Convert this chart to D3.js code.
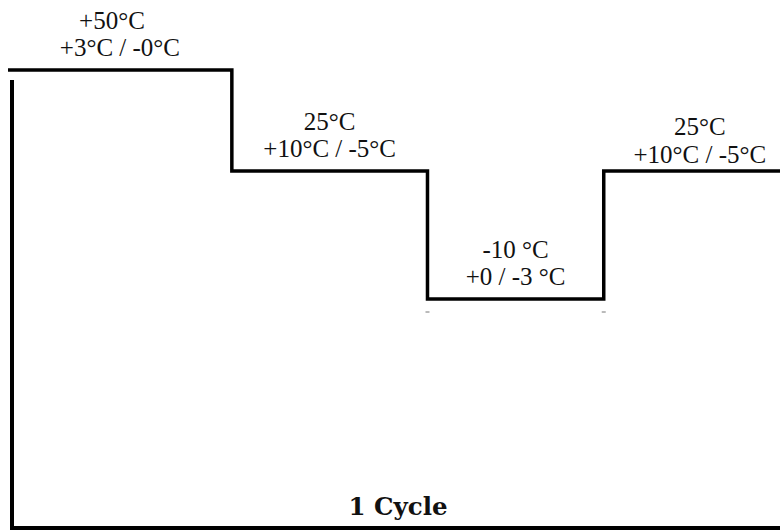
<!DOCTYPE html>
<html>
<head>
<meta charset="utf-8">
<script src="https://cdn.jsdelivr.net/npm/d3@7"></script>
<style>
  body { margin: 0; background: #fff; }
  svg { display: block; }
</style>
</head>
<body>
<svg id="chart" width="780" height="531"></svg>
<script>
// phases of one temperature cycle
const phases = ['high', 'room', 'low', 'room2'];
const durations = [1.27, 1.11, 1.0, 1.0];   // relative length of each phase
const temps = [50, 25, -10, 25];            // set point, degC
const setLabels = ['+50°C', '25°C', '-10 °C', '25°C'];
const tolLabels = ['+3°C / -0°C', '+10°C / -5°C', '+0 / -3 °C', '+10°C / -5°C'];
const cycleLabel = '1 Cycle';

const svg = d3.select('#chart');

// cumulative start/end of each phase
let t = 0;
const steps = phases.map((p, i) => {
  const s = { name: p, t0: t, t1: t + durations[i], temp: temps[i], set: setLabels[i], tol: tolLabels[i] };
  t += durations[i];
  return s;
});

const x = d3.scaleLinear().domain([0, t]).range([8, 780]);
// picture is not to scale, so a piecewise scale
const y = d3.scaleLinear().domain([-10, 25, 50]).range([299, 171, 70]);
const yBase = 528;

// axes frame (left + bottom)
svg.append('line')
  .attr('x1', 12).attr('x2', 12)
  .attr('y1', 80).attr('y2', yBase)
  .attr('stroke', '#000').attr('stroke-width', 4);
svg.append('line')
  .attr('x1', 10).attr('x2', 780)
  .attr('y1', yBase).attr('y2', yBase)
  .attr('stroke', '#000').attr('stroke-width', 4);

// step profile
const pts = [];
steps.forEach(s => {
  pts.push([s.t0, s.temp]);
  pts.push([s.t1, s.temp]);
});
const line = d3.line().x(d => x(d[0])).y(d => y(d[1]));
svg.append('path')
  .attr('d', line(pts))
  .attr('fill', 'none')
  .attr('stroke', '#000')
  .attr('stroke-width', 3.5)
  .attr('stroke-linejoin', 'miter');

// tiny marks under the low phase
const low = steps[2];
[low.t0, low.t1].forEach(tt => {
  svg.append('line')
    .attr('x1', x(tt) - 2).attr('x2', x(tt) + 2)
    .attr('y1', y(low.temp) + 13).attr('y2', y(low.temp) + 13)
    .attr('stroke', '#777').attr('stroke-width', 1);
});

// labels
const g = svg.selectAll('g.lab').data(steps).enter().append('g')
  .attr('class', 'lab')
  .attr('transform', d => `translate(${x((d.t0 + d.t1) / 2)},${y(d.temp)})`);
g.append('text')
  .attr('font-family', 'Liberation Serif')
  .attr('font-size', 25)
  .attr('fill', '#111')
  .attr('text-anchor', 'middle')
  .attr('dx', (d, i) => i === 0 ? -8 : (i === 3 ? 8 : 0))
  .attr('y', (d, i) => i === 3 ? -36 : -41)
  .text(d => d.set);
g.append('text')
  .attr('font-family', 'Liberation Serif')
  .attr('font-size', 25)
  .attr('fill', '#111')
  .attr('text-anchor', 'middle')
  .attr('dx', (d, i) => i === 3 ? 8 : 0)
  .attr('y', (d, i) => i === 3 ? -8 : -14)
  .text(d => d.tol);

svg.append('text')
  .attr('font-family', 'DejaVu Serif')
  .attr('font-weight', 'bold')
  .attr('font-size', 24.5)
  .attr('fill', '#111')
  .attr('x', 398).attr('y', 515)
  .attr('text-anchor', 'middle')
  .text(cycleLabel);
</script>
</body>
</html>
